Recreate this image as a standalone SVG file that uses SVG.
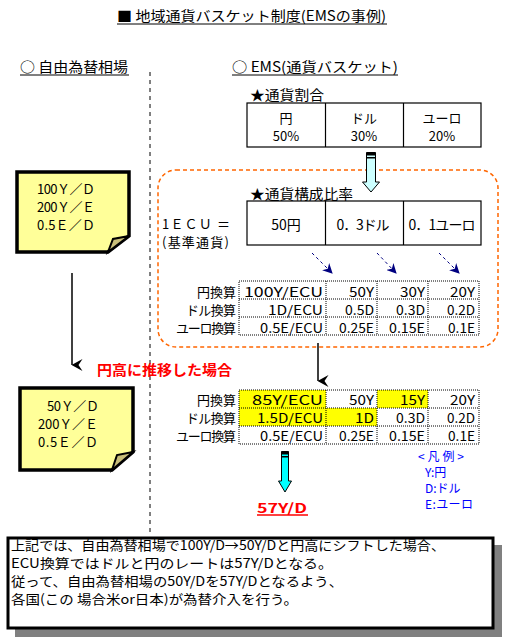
<svg xmlns="http://www.w3.org/2000/svg" width="521" height="642" viewBox="0 0 521 642">
<style>
text{font-family:"Noto Sans CJK JP","Noto Sans",sans-serif;font-size:13px;fill:#000}
.t14{font-size:14px}
.mid{text-anchor:middle}
.end{text-anchor:end}
.red{fill:#FF0000;font-weight:bold}
.blue{fill:#0000FF;font-size:12px}
.cell{fill:#fff;stroke:#000;stroke-width:1.2}
.dot{stroke:#000;stroke-width:1;stroke-dasharray:1,1;fill:none}
.note{fill:#FFFF99;stroke:#000;stroke-width:3.5;stroke-linejoin:miter}
.fold{fill:#C8BE7A;stroke:#000;stroke-width:2}
.hl{fill:#FFFF00}
.ul{stroke:#000;stroke-width:1}
</style>
<defs>
<marker id="blk" viewBox="0 0 12 14" refX="6" refY="13.5" markerWidth="12" markerHeight="14" markerUnits="userSpaceOnUse" orient="auto-start-reverse">
<path d="M0,3 L6,14 L12,3 L6,7 Z" fill="#000"/>
</marker>
<marker id="nav" viewBox="0 0 10 10" refX="9" refY="5" markerWidth="10" markerHeight="10" markerUnits="userSpaceOnUse" orient="auto">
<path d="M0,0 L10,5 L0,10 L3,5 Z" fill="#000080"/>
</marker>
</defs>
<rect width="521" height="642" fill="#fff"/>

<g id="title">
<text x="117" y="21" class="t14" textLength="269" lengthAdjust="spacingAndGlyphs">■ 地域通貨バスケット制度(EMSの事例)</text>
<line x1="117" y1="24" x2="387" y2="24" class="ul"/>
</g>
<g id="heading-left">
<text x="20" y="72" class="t14" textLength="108" lengthAdjust="spacingAndGlyphs">○ 自由為替相場</text>
<line x1="20" y1="75" x2="129" y2="75" class="ul"/>
</g>
<g id="heading-right">
<text x="232" y="72" class="t14" textLength="166" lengthAdjust="spacingAndGlyphs">○ EMS(通貨バスケット)</text>
<line x1="232" y1="75" x2="398" y2="75" class="ul"/>
</g>
<line x1="150" y1="72" x2="150" y2="532" stroke="#000" stroke-width="1" stroke-dasharray="4,4"/>

<g id="ratio-table">
<text x="250" y="100" class="t14" textLength="74" lengthAdjust="spacingAndGlyphs">★通貨割合</text>
<rect x="247" y="103" width="234" height="44" class="cell"/>
<line x1="325.5" y1="103" x2="325.5" y2="147" stroke="#000" stroke-width="1.2"/>
<line x1="403.5" y1="103" x2="403.5" y2="147" stroke="#000" stroke-width="1.2"/>
<text x="286" y="123" class="mid">円</text>
<text x="286" y="141" class="mid">50%</text>
<text x="364" y="123" class="mid">ドル</text>
<text x="364" y="141" class="mid">30%</text>
<text x="442" y="123" class="mid">ユーロ</text>
<text x="442" y="141" class="mid">20%</text>
</g>

<g id="basket-frame">
<rect x="158" y="170" width="340" height="177" rx="18" ry="18" fill="none" stroke="#FF6600" stroke-width="1.5" stroke-dasharray="4,3"/>
</g>

<g id="composition-table">
<text x="250" y="199" class="t14" textLength="103" lengthAdjust="spacingAndGlyphs">★通貨構成比率</text>
<text x="162" y="229" textLength="68" lengthAdjust="spacing">1ＥＣＵ ＝</text>
<text x="162" y="247" font-size="11.5" textLength="67" lengthAdjust="spacing">(基準通貨)</text>
<rect x="247" y="201" width="234" height="44" class="cell"/>
<line x1="325.5" y1="201" x2="325.5" y2="245" stroke="#000" stroke-width="1.2"/>
<line x1="403.5" y1="201" x2="403.5" y2="245" stroke="#000" stroke-width="1.2"/>
<text x="286" y="230" class="mid t14">50円</text>
<text x="363" y="230" class="mid t14" textLength="53" lengthAdjust="spacing">0．3ドル</text>
<text x="442" y="230" class="mid t14" textLength="67" lengthAdjust="spacing">0．1ユーロ</text>
</g>

<g id="conversion-table-1">
<rect x="239" y="281" width="240" height="54" class="dot"/>
<line x1="239" y1="299" x2="479" y2="299" class="dot"/>
<line x1="239" y1="317" x2="479" y2="317" class="dot"/>
<line x1="326" y1="281" x2="326" y2="335" class="dot"/>
<line x1="377" y1="281" x2="377" y2="335" class="dot"/>
<line x1="428" y1="281" x2="428" y2="335" class="dot"/>
<text x="236" y="297" class="end" textLength="39">円換算</text>
<text x="236" y="315" class="end" textLength="50">ドル換算</text>
<text x="236" y="333" class="end" textLength="60">ユーロ換算</text>
<text x="323" y="297" class="end" textLength="79" lengthAdjust="spacingAndGlyphs">100Y/ECU</text>
<text x="374" y="297" class="end" textLength="25" lengthAdjust="spacingAndGlyphs">50Y</text>
<text x="425" y="297" class="end" textLength="25" lengthAdjust="spacingAndGlyphs">30Y</text>
<text x="475" y="297" class="end" textLength="25" lengthAdjust="spacingAndGlyphs">20Y</text>
<text x="323" y="315" class="end" textLength="55" lengthAdjust="spacingAndGlyphs">1D/ECU</text>
<text x="374" y="315" class="end" textLength="29" lengthAdjust="spacingAndGlyphs">0.5D</text>
<text x="425" y="315" class="end" textLength="29" lengthAdjust="spacingAndGlyphs">0.3D</text>
<text x="475" y="315" class="end" textLength="28" lengthAdjust="spacingAndGlyphs">0.2D</text>
<text x="323" y="333" class="end" textLength="63" lengthAdjust="spacingAndGlyphs">0.5E/ECU</text>
<text x="374" y="333" class="end" textLength="35" lengthAdjust="spacingAndGlyphs">0.25E</text>
<text x="425" y="333" class="end" textLength="36" lengthAdjust="spacingAndGlyphs">0.15E</text>
<text x="475" y="333" class="end" textLength="27" lengthAdjust="spacingAndGlyphs">0.1E</text>
</g>

<g id="note-free">
<path d="M17,172 H129 V236 L108,252 H17 Z" class="note"/>
<path d="M129,236 L108,252 L113,239 Z" class="fold"/>
<text x="37" y="194" textLength="58" lengthAdjust="spacing">100Ｙ／Ｄ</text>
<text x="37" y="212" textLength="58" lengthAdjust="spacing">200Ｙ／Ｅ</text>
<text x="37" y="230" textLength="58" lengthAdjust="spacing">0.5Ｅ／Ｄ</text>
</g>

<g id="note-after">
<path d="M20,388 H133 V452 L112,470 H20 Z" class="note"/>
<path d="M133,452 L112,470 L117,455 Z" class="fold"/>
<text x="47" y="411" textLength="52" lengthAdjust="spacing" fill="#FF0000">50Ｙ／Ｄ</text>
<text x="38" y="429" textLength="60" lengthAdjust="spacing">200Ｙ／Ｅ</text>
<text x="38" y="447" textLength="60" lengthAdjust="spacing">0.5Ｅ／Ｄ</text>
</g>

<g id="label-yen-rise">
<text x="97" y="375" class="t14 red" textLength="135" lengthAdjust="spacingAndGlyphs">円高に推移した場合</text>
</g>

<g id="conversion-table-2">
<rect x="239" y="390" width="87" height="18" class="hl"/>
<rect x="377" y="390" width="51" height="18" class="hl"/>
<rect x="239" y="408" width="138" height="18" class="hl"/>
<rect x="239" y="390" width="240" height="54" class="dot"/>
<line x1="239" y1="408" x2="479" y2="408" class="dot"/>
<line x1="239" y1="426" x2="479" y2="426" class="dot"/>
<line x1="326" y1="390" x2="326" y2="444" class="dot"/>
<line x1="377" y1="390" x2="377" y2="444" class="dot"/>
<line x1="428" y1="390" x2="428" y2="444" class="dot"/>
<text x="236" y="405" class="end" textLength="39">円換算</text>
<text x="236" y="423" class="end" textLength="50">ドル換算</text>
<text x="236" y="441" class="end" textLength="60">ユーロ換算</text>
<text x="323" y="405" class="end" textLength="71" lengthAdjust="spacingAndGlyphs">85Y/ECU</text>
<text x="374" y="405" class="end" textLength="25" lengthAdjust="spacingAndGlyphs">50Y</text>
<text x="425" y="405" class="end" textLength="25" lengthAdjust="spacingAndGlyphs">15Y</text>
<text x="475" y="405" class="end" textLength="25" lengthAdjust="spacingAndGlyphs">20Y</text>
<text x="323" y="423" class="end" textLength="66" lengthAdjust="spacingAndGlyphs">1.5D/ECU</text>
<text x="374" y="423" class="end" textLength="19" lengthAdjust="spacingAndGlyphs">1D</text>
<text x="425" y="423" class="end" textLength="29" lengthAdjust="spacingAndGlyphs">0.3D</text>
<text x="475" y="423" class="end" textLength="28" lengthAdjust="spacingAndGlyphs">0.2D</text>
<text x="323" y="441" class="end" textLength="63" lengthAdjust="spacingAndGlyphs">0.5E/ECU</text>
<text x="374" y="441" class="end" textLength="35" lengthAdjust="spacingAndGlyphs">0.25E</text>
<text x="425" y="441" class="end" textLength="36" lengthAdjust="spacingAndGlyphs">0.15E</text>
<text x="475" y="441" class="end" textLength="27" lengthAdjust="spacingAndGlyphs">0.1E</text>
</g>

<g id="result">
<text x="257" y="513" class="red" font-size="15" textLength="50" lengthAdjust="spacingAndGlyphs">57Y/D</text>
<line x1="257" y1="515" x2="308" y2="515" stroke="#FF0000" stroke-width="1.3"/>
</g>

<g id="legend">
<text x="418" y="461" class="blue" textLength="46" lengthAdjust="spacing">&lt;凡例&gt;</text>
<text x="425" y="477" class="blue">Y:円</text>
<text x="425" y="493" class="blue">D:ドル</text>
<text x="425" y="509" class="blue" textLength="48" lengthAdjust="spacing">E:ユーロ</text>
</g>

<g id="summary">
<rect x="15" y="545" width="487" height="92" fill="#808080"/>
<rect x="8" y="538" width="485" height="90" fill="#fff" stroke="#000" stroke-width="3"/>
<text x="11" y="550" textLength="434" lengthAdjust="spacingAndGlyphs">上記では、自由為替相場で100Y/D→50Y/Dと円高にシフトした場合、</text>
<text x="11" y="568" textLength="322" lengthAdjust="spacingAndGlyphs">ECU換算ではドルと円のレートは57Y/Dとなる。</text>
<text x="11" y="586" textLength="332" lengthAdjust="spacingAndGlyphs">従って、自由為替相場の50Y/Dを57Y/Dとなるよう、</text>
<text x="11" y="604" textLength="287" lengthAdjust="spacingAndGlyphs">各国(この 場合米or日本)が為替介入を行う。</text>
</g>

<g id="connectors">
<line x1="72" y1="273" x2="72" y2="365" stroke="#000" stroke-width="1.5" marker-end="url(#blk)"/>
<line x1="318" y1="343" x2="318" y2="381" stroke="#000" stroke-width="1.5" marker-end="url(#blk)"/>
<line x1="312" y1="253" x2="332" y2="273" stroke="#000080" stroke-width="1" stroke-dasharray="3,3" marker-end="url(#nav)"/>
<line x1="377" y1="253" x2="396" y2="273" stroke="#000080" stroke-width="1" stroke-dasharray="3,3" marker-end="url(#nav)"/>
<line x1="439" y1="253" x2="459" y2="273" stroke="#000080" stroke-width="1" stroke-dasharray="3,3" marker-end="url(#nav)"/>
<path d="M366.5,152.5 H375.5 V182 H379.5 L371,192 L362.5,182 H366.5 Z" fill="#CCFFFF" stroke="#000" stroke-width="1"/>
<rect x="366.5" y="152.5" width="9" height="3" fill="#000"/>
<rect x="366.5" y="157" width="9" height="1.5" fill="#000"/>
<path d="M281.5,451.5 H288.5 V481 H291.5 L285,492 L278.5,481 H281.5 Z" fill="#00FFFF" stroke="#000" stroke-width="1"/>
<rect x="281.5" y="451.5" width="7" height="3" fill="#000"/>
<rect x="281.5" y="456" width="7" height="1.5" fill="#000"/>
</g>
</svg>
